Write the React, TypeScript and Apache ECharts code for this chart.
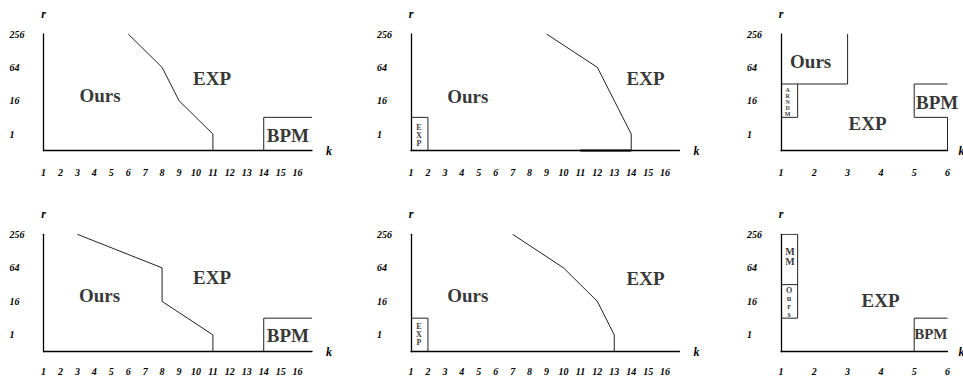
import React, { useEffect, useRef } from "react";
import * as echarts from "echarts";

// ---- axis ticks / labels ----
const K_TICKS_WIDE = [1, 2, 3, 4, 5, 6, 7, 8, 9, 10, 11, 12, 13, 14, 15, 16];
const K_TICKS_NARROW = [1, 2, 3, 4, 5, 6];
const K_MAX_WIDE = 16.85;
const K_MAX_NARROW = 6;
const R_LABELS = ["1", "16", "64", "256"];
const R_LEVELS = [0.5, 1.5, 2.5, 3.5]; // ordinal rank of r levels on the vertical axis
const R_MAX = 3.5;

// ---- region boundaries (k, r-level) ----
const p1Boundary = [[6, 3.5], [8, 2.5], [9, 1.5], [11, 0.5], [11, 0]];
const p1Bpm = [[14, 0], [14, 1], [K_MAX_WIDE, 1]];

const p2Boundary = [[9, 3.5], [12, 2.5], [14, 0.5], [14, 0]];
const p2ExpBox = [[1, 1], [2, 1], [2, 0]];
const p2Base = [[11, 0], [14, 0]];

const p3Ours = [[1, 2], [3, 2], [3, 3.5]];
const p3Arndm = [[1.5, 2], [1.5, 1], [1, 1]];
const p3Bpm = [[6, 2], [5, 2], [5, 1], [6, 1], [6, 0]];

const p4Boundary = [[3, 3.5], [8, 2.5], [8, 1.5], [11, 0.5], [11, 0]];
const p4Bpm = [[14, 0], [14, 1], [K_MAX_WIDE, 1]];

const p5Boundary = [[7, 3.5], [10, 2.5], [12, 1.5], [13, 0.5], [13, 0]];
const p5ExpBox = [[1, 1], [2, 1], [2, 0]];

const p6MmBox = [[1, 3.5], [1.5, 3.5], [1.5, 1], [1, 1]];
const p6MmDivider = [[1, 2], [1.5, 2]];
const p6Bpm = [[5, 0], [5, 1], [6, 1]];

// ---- region names: [text, k, r-level, size, lineHeight] ----
const p1Names = [["Ours", 4.34, 1.67, 19, 19], ["EXP", 10.95, 2.18, 19, 19], ["BPM", 15.43, 0.47, 19, 19]];
const p2Names = [["Ours", 4.35, 1.64, 19, 19], ["EXP", 14.85, 2.18, 19, 19], ["E\nX\nP", 1.47, 0.45, 8, 8]];
const p3Names = [["Ours", 1.89, 2.69, 19, 19], ["EXP", 3.6, 0.83, 19, 19], ["BPM", 5.69, 1.44, 19, 19], ["A\nR\nN\nD\nM", 1.2, 1.47, 6, 6]];
const p4Names = [["Ours", 4.31, 1.69, 19, 19], ["EXP", 10.95, 2.2, 19, 19], ["BPM", 15.43, 0.48, 19, 19]];
const p5Names = [["Ours", 4.35, 1.67, 19, 19], ["EXP", 14.85, 2.17, 19, 19], ["E\nX\nP", 1.47, 0.5, 8, 8]];
const p6Names = [["M\nM", 1.27, 2.83, 10, 10], ["O\nu\nr\ns", 1.24, 1.47, 8, 8], ["EXP", 3.99, 1.54, 19, 19], ["BPM", 5.5, 0.52, 15, 15]];

const SERIF = "'Liberation Serif', 'Times New Roman', serif";

type Panel = {
  left: number;
  top: number;
  width: number;
  height: number;
  wide: boolean;
  labelMargin: number;
  lines: number[][][];
  thick?: number[][][];
  names: (string | number)[][];
};

const panels: Panel[] = [
  { left: 43.5, top: 34, width: 268.5, height: 116.7, wide: true, labelMargin: 17, lines: [p1Boundary, p1Bpm], names: p1Names },
  { left: 411, top: 34, width: 268.5, height: 116.7, wide: true, labelMargin: 17, lines: [p2Boundary, p2ExpBox], thick: [p2Base], names: p2Names },
  { left: 781, top: 34, width: 166.5, height: 116.7, wide: false, labelMargin: 17, lines: [p3Ours, p3Arndm, p3Bpm], names: p3Names },
  { left: 43.5, top: 234.3, width: 268.5, height: 117.4, wide: true, labelMargin: 15, lines: [p4Boundary, p4Bpm], names: p4Names },
  { left: 411, top: 234.3, width: 268.5, height: 117.4, wide: true, labelMargin: 15, lines: [p5Boundary, p5ExpBox], names: p5Names },
  { left: 781, top: 234.3, width: 166.5, height: 117.4, wide: false, labelMargin: 15, lines: [p6MmBox, p6MmDivider, p6Bpm], names: p6Names },
];

function buildOption() {
  const grid: any[] = [];
  const xAxis: any[] = [];
  const yAxis: any[] = [];
  const series: any[] = [];
  const graphic: any[] = [];
  const tickFont = {
    fontFamily: SERIF,
    fontStyle: "italic",
    fontWeight: "bold",
    fontSize: 10,
    color: "#000",
  };
  panels.forEach((p, i) => {
    grid.push({ left: p.left, top: p.top, width: p.width, height: p.height, containLabel: false });
    xAxis.push({
      type: "value",
      gridIndex: i,
      min: 1,
      max: p.wide ? K_MAX_WIDE : K_MAX_NARROW,
      name: p.wide ? "k" : "",
      nameLocation: "end",
      nameGap: 14,
      nameTextStyle: { ...tickFont, fontSize: 12, verticalAlign: "middle" },
      axisLine: { show: true, onZero: false, lineStyle: { color: "#000", width: 1.3 } },
      axisTick: { show: false },
      splitLine: { show: false },
      axisLabel: {
        ...tickFont,
        margin: p.labelMargin,
        customValues: p.wide ? K_TICKS_WIDE : K_TICKS_NARROW,
        formatter: (v: number) => String(v),
      },
    });
    if (!p.wide) {
      graphic.push({
        type: "text",
        x: p.left + p.width + 11,
        y: p.top + p.height,
        style: {
          text: "k",
          fontFamily: SERIF,
          fontStyle: "italic",
          fontWeight: "bold",
          fontSize: 12,
          fill: "#000",
          verticalAlign: "middle",
          align: "left",
        },
      });
    }
    yAxis.push({
      type: "value",
      gridIndex: i,
      min: 0,
      max: R_MAX,
      name: "r",
      nameLocation: "end",
      nameGap: 14,
      nameTextStyle: { ...tickFont, fontSize: 12 },
      axisLine: { show: true, onZero: false, lineStyle: { color: "#000", width: 1.3 } },
      axisTick: { show: false },
      splitLine: { show: false },
      axisLabel: {
        ...tickFont,
        align: "left",
        margin: 34,
        customValues: R_LEVELS,
        formatter: (v: number) => {
          const idx = R_LEVELS.indexOf(v);
          return idx >= 0 ? R_LABELS[idx] : "";
        },
      },
    });
    p.lines.forEach((ln) => {
      series.push({
        type: "line",
        xAxisIndex: i,
        yAxisIndex: i,
        data: ln,
        symbol: "none",
        silent: true,
        lineStyle: { color: "#222", width: 1 },
      });
    });
    (p.thick || []).forEach((ln) => {
      series.push({
        type: "line",
        xAxisIndex: i,
        yAxisIndex: i,
        data: ln,
        symbol: "none",
        silent: true,
        lineStyle: { color: "#000", width: 2.2 },
      });
    });
    series.push({
      type: "scatter",
      xAxisIndex: i,
      yAxisIndex: i,
      symbolSize: 0,
      silent: true,
      itemStyle: { color: "transparent" },
      data: p.names.map((n) => ({
        value: [n[1], n[2]],
        label: {
          show: true,
          position: "inside",
          formatter: String(n[0]),
          fontFamily: SERIF,
          fontWeight: "bold",
          fontSize: n[3] as number,
          lineHeight: n[4] as number,
          color: "#000",
          align: "center",
          verticalAlign: "middle",
        },
      })),
    });
  });
  return { animation: false, grid, xAxis, yAxis, series, graphic };
}

export default function App() {
  const ref = useRef<HTMLDivElement>(null);
  useEffect(() => {
    document.body.style.margin = "0";
    if (!ref.current) return;
    const chart = echarts.init(ref.current, undefined, { renderer: "svg" });
    chart.setOption(buildOption() as any);
    return () => chart.dispose();
  }, []);
  return <div ref={ref} style={{ width: 963, height: 377, background: "#fff" }} />;
}
